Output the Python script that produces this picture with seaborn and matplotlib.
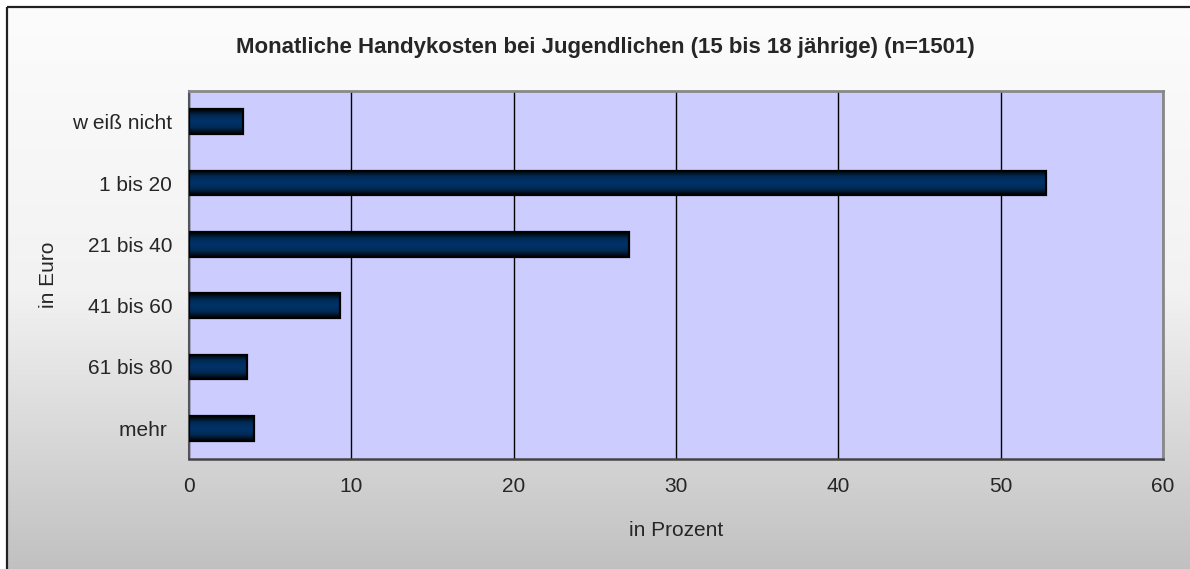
import numpy as np
import pandas as pd
import matplotlib
matplotlib.use("Agg")
import matplotlib.pyplot as plt
from matplotlib.colors import LinearSegmentedColormap
from matplotlib.patches import Rectangle
import seaborn as sns

# ---- data ----
categories = ["w eiß nicht", "1 bis 20", "21 bis 40", "41 bis 60", "61 bis 80", "mehr "]
values = [3.3, 52.8, 27.1, 9.3, 3.6, 4.0]
x_ticks = [0, 10, 20, 30, 40, 50, 60]
title = "Monatliche Handykosten bei Jugendlichen (15 bis 18 jährige) (n=1501)"
xlabel = "in Prozent"
ylabel = "in Euro"

sns.set_style("white")
plt.rcParams["font.family"] = ["Liberation Sans", "DejaVu Sans"]

W, H, DPI = 1190, 569, 100
fig = plt.figure(figsize=(W / DPI, H / DPI), dpi=DPI)
fig.patch.set_facecolor("white")

# background gradient inside the frame
bg = fig.add_axes([0, 0, 1, 1], zorder=-10)
bg.set_xlim(0, W)
bg.set_ylim(H, 0)
bg.axis("off")
grad = np.linspace(0, 1, 256).reshape(-1, 1)
bg_cmap = LinearSegmentedColormap.from_list("bg", ["#FCFCFC", "#F2F2F2", "#C0C0C0"])
bg.imshow(grad, cmap=bg_cmap, extent=[7, W + 5, H + 5, 7], aspect="auto", interpolation="bicubic")
bg.add_patch(Rectangle((7, 7), W + 40, H + 40, fill=False, edgecolor="#222222",
                       linewidth=1.6, clip_on=False))

left, right = 189 / W, 1163 / W
top, bottom = 1 - 91 / H, 1 - 459 / H
ax = fig.add_axes([left, bottom, right - left, top - bottom])
ax.set_facecolor("#CCCCFF")

df = pd.DataFrame({"cat": categories, "val": values})
sns.barplot(data=df, x="val", y="cat", orient="h", color="#003366", width=0.4,
            edgecolor="black", linewidth=1.6, ax=ax, zorder=3)

# gradient fill on bars
bar_cmap = LinearSegmentedColormap.from_list("bar", ["#000000", "#002a55", "#00336a", "#002a55", "#000000"])
bgrad = np.linspace(0, 1, 64).reshape(-1, 1)
for p in ax.patches:
    x0, y0 = p.get_x(), p.get_y()
    w, h = p.get_width(), p.get_height()
    im = ax.imshow(bgrad, cmap=bar_cmap, extent=[x0, x0 + w, y0 + h, y0], aspect="auto",
                   interpolation="bilinear", zorder=3.5)
    im.set_clip_path(p)
    p.set_facecolor("none")
    p.set_zorder(4)

fs = 15
ax.set_xlim(0, 60)
ax.set_ylim(len(categories) - 0.5, -0.5)
ax.set_xticks(x_ticks)
ax.set_xticklabels([str(t) for t in x_ticks], fontsize=fs)
ax.set_yticks(range(len(categories)))
ax.set_yticklabels(categories, fontsize=fs)
ax.set_yticks(np.arange(-0.5, len(categories), 1.0), minor=True)
ax.tick_params(axis="y", which="major", length=0, pad=12)
ax.tick_params(axis="y", which="minor", length=6, width=1.2, color="black", direction="out")
ax.tick_params(axis="x", which="major", length=6, width=1, color="black", direction="out", pad=7)

ax.grid(axis="x", color="black", linewidth=1, zorder=1)
ax.grid(axis="y", visible=False)
ax.set_axisbelow(True)

for s in ["top", "right"]:
    ax.spines[s].set_color("#888888")
    ax.spines[s].set_linewidth(2)
ax.spines["left"].set_color("#555555")
ax.spines["left"].set_linewidth(1.5)
ax.spines["bottom"].set_color("#444444")
ax.spines["bottom"].set_linewidth(1.8)

ax.set_xlabel(xlabel, fontsize=fs, labelpad=18)
ax.set_ylabel(ylabel, fontsize=fs, labelpad=10)

fig.text(605 / W, 1 - 47 / H, title, ha="center", va="center", fontsize=16, fontweight="bold")

fig.savefig("out.png", dpi=DPI)
